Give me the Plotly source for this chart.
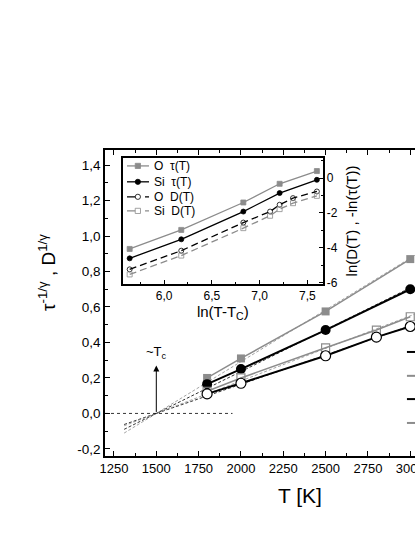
import numpy as np
import plotly.graph_objects as go

# main panel: T [K] and scaled relaxation time / diffusion data
T_tau = [1800, 2000, 2500, 3000]
T_D = [1800, 2000, 2500, 2800, 3000]
O_tau = [0.20, 0.31, 0.575, 0.87]
Si_tau = [0.165, 0.25, 0.47, 0.70]
O_D = [0.11, 0.17, 0.325, 0.43, 0.49]
Si_D = [0.125, 0.20, 0.37, 0.47, 0.545]

TC = 1500
fit_T = [1310, 3500]

# inset: ln(T-Tc) vs ln D, -ln tau
lnT_tau = [5.64, 6.18, 6.83, 7.21, 7.60]
lnT_D = [5.64, 6.18, 6.83, 7.11, 7.21, 7.35, 7.60]
in_O_tau = [-4.06, -2.97, -1.40, -0.33, 0.40]
in_Si_tau = [-4.60, -3.51, -1.92, -0.86, -0.10]
in_O_D = [-5.23, -4.16, -2.55, -1.92, -1.53, -1.15, -0.77]
in_Si_D = [-5.52, -4.44, -2.87, -2.16, -1.78, -1.44, -1.02]

y_ticks = [-0.2, 0.0, 0.2, 0.4, 0.6, 0.8, 1.0, 1.2, 1.4]
y_ticktext = ['-0,2', '0,0', '0,2', '0,4', '0,6', '0,8', '1,0', '1,2', '1,4']
inset_x_ticks = [6.0, 6.5, 7.0, 7.5]
inset_x_ticktext = ['6,0', '6,5', '7,0', '7,5']
inset_y_ticks = [-6, -4, -2, 0]
inset_y_ticktext = ['-6', '-4', '-2', '0']

GRAY = '#8c8c8c'
FONT = 'Arial, Liberation Sans, sans-serif'
NB = '\u00a0'

fig = go.Figure()


def fit_line(xs, ys):
    # least squares line forced through (TC, 0)
    dx = np.array(xs) - TC
    k = np.sum(dx * np.array(ys)) / np.sum(dx ** 2)
    return [k * (t - TC) for t in fit_T]


# extrapolated fits (thin dashed)
for xs, ys, c in [(T_tau, O_tau, GRAY), (T_tau, Si_tau, 'black'),
                  (T_D, O_D, 'black'), (T_D, Si_D, GRAY)]:
    fig.add_trace(go.Scatter(x=fit_T, y=fit_line(xs, ys), mode='lines',
                             line=dict(color=c, width=0.8, dash='3px,2px'),
                             showlegend=False, hoverinfo='skip'))

# main data
fig.add_trace(go.Scatter(x=T_tau, y=O_tau, mode='lines+markers', showlegend=False,
                         line=dict(color=GRAY, width=1.5),
                         marker=dict(symbol='square', size=8, color=GRAY)))
fig.add_trace(go.Scatter(x=T_tau, y=Si_tau, mode='lines+markers', showlegend=False,
                         line=dict(color='black', width=2),
                         marker=dict(symbol='circle', size=10, color='black')))
fig.add_trace(go.Scatter(x=T_D, y=Si_D, mode='lines+markers', showlegend=False,
                         line=dict(color=GRAY, width=1.5),
                         marker=dict(symbol='square-open', size=8, color=GRAY,
                                     line=dict(width=1.2))))
fig.add_trace(go.Scatter(x=T_D, y=O_D, mode='lines+markers', showlegend=False,
                         line=dict(color='black', width=2),
                         marker=dict(symbol='circle', size=10, color='white',
                                     line=dict(color='black', width=1.2))))

# inset series: (name, x, y, colour, dash, marker)
inset_series = [
    ('O' + NB * 2 + 'τ(T)', lnT_tau, in_O_tau, GRAY, 'solid', 'square'),
    ('Si' + NB * 2 + 'τ(T)', lnT_tau, in_Si_tau, 'black', 'solid', 'circle'),
    ('O' + NB * 2 + 'D(T)', lnT_D, in_O_D, 'black', '7px,4px', 'circle-open'),
    ('Si' + NB * 2 + 'D(T)', lnT_D, in_Si_D, GRAY, '7px,4px', 'square-open'),
]
for name, xs, ys, c, dash, sym in inset_series:
    fig.add_trace(go.Scatter(x=xs, y=ys, xaxis='x2', yaxis='y2', mode='lines+markers',
                             name=name, showlegend=False,
                             line=dict(color=c, width=1.3, dash=dash),
                             marker=dict(symbol=sym, size=5, color=c,
                                         line=dict(width=0.8, color=c))))

axis_common = dict(showline=True, linecolor='black', linewidth=1.5, ticks='inside',
                   tickcolor='black', showgrid=False, zeroline=False, automargin=False)

fig.update_layout(
    width=415, height=537,
    margin=dict(l=105, r=0, t=150, b=81),
    paper_bgcolor='white', plot_bgcolor='white',
    font=dict(family=FONT, color='black', size=13),
    showlegend=False,
    xaxis=dict(range=[1197, 3028], tick0=1250, dtick=250, ticklen=5,
               minor=dict(dtick=125, tick0=1250, ticklen=3, ticks='inside'),
               mirror='ticks', tickfont=dict(size=13), ticklabeloverflow='allow',
               **axis_common),
    yaxis=dict(range=[-0.24, 1.485], tickvals=y_ticks, ticktext=y_ticktext, ticklen=5,
               minor=dict(dtick=0.1, tick0=0, ticklen=3, ticks='inside'),
               tickfont=dict(size=13.5), **axis_common),
    xaxis2=dict(domain=[0.058, 0.702], anchor='y2', range=[5.57, 7.66],
                tickvals=inset_x_ticks, ticktext=inset_x_ticktext, ticklen=4,
                minor=dict(dtick=0.25, tick0=6.0, ticklen=2, ticks='inside'),
                mirror=True, tickfont=dict(size=12),
                title=dict(text='ln(T-T<sub>C</sub>)', font=dict(size=15), standoff=0),
                **axis_common),
    yaxis2=dict(domain=[0.562, 0.974], anchor='x2', side='right', range=[-6.07, 1.15],
                tickvals=inset_y_ticks, ticktext=inset_y_ticktext, ticklen=4,
                minor=dict(dtick=1, tick0=0, ticklen=2, ticks='inside'),
                mirror=True, tickfont=dict(size=12),
                title=dict(text='ln(D(T) , -ln(τ(T))', font=dict(size=15), standoff=10),
                **axis_common),
)

# compact legend inside the inset (plotly's own legend rows are too tall)
row_y = [0.948, 0.896, 0.847, 0.801]
mw, mh = 0.0085, 0.0085
for (name, xs, ys, c, dash, sym), yy in zip(inset_series, row_y):
    fig.add_shape(type='line', xref='paper', yref='paper', x0=0.071, x1=0.142,
                  y0=yy, y1=yy, line=dict(color=c, width=1.3,
                                          dash='solid' if dash == 'solid' else 'dash'))
    kind = 'rect' if sym.startswith('square') else 'circle'
    fill = 'white' if sym.endswith('open') else c
    fig.add_shape(type=kind, xref='paper', yref='paper', x0=0.106 - mw, x1=0.106 + mw,
                  y0=yy - mh, y1=yy + mh, fillcolor=fill, line=dict(color=c, width=0.8))
    fig.add_annotation(x=0.153, y=yy, xref='paper', yref='paper', text=name,
                       xanchor='left', yanchor='middle', showarrow=False,
                       font=dict(size=12))

# dotted zero line up to ~1950 K
fig.add_shape(type='line', xref='x', yref='y', x0=1197, x1=1950, y0=0, y1=0,
              line=dict(color='black', width=0.8, dash='dot'))

# Tc arrow and label
fig.add_annotation(x=TC, y=0.27, ax=TC, ay=0.0, axref='x', ayref='y', xref='x', yref='y',
                   text='', showarrow=True, arrowhead=2, arrowsize=1.2, arrowwidth=1,
                   arrowcolor='black')
fig.add_annotation(x=TC, y=0.345, xref='x', yref='y', text='~T<sub>c</sub>',
                   showarrow=False, font=dict(size=13))

# axis titles
fig.add_annotation(x=-0.185, y=0.60, xref='paper', yref='paper', textangle=-90,
                   xanchor='center', yanchor='middle',
                   text='τ<sup>-1/γ</sup> , D<sup>1/γ</sup>', showarrow=False,
                   font=dict(size=19, color='black'))
fig.add_annotation(x=0.63, y=-0.128, xref='paper', yref='paper', text='T [K]',
                   xanchor='center', yanchor='middle',
                   showarrow=False, font=dict(size=21))

# edge of a second legend, cut off at the right border
for yy, c in [(0.34, 'black'), (0.262, GRAY), (0.186, 'black'), (0.108, GRAY)]:
    fig.add_shape(type='line', xref='paper', yref='paper', x0=0.974, x1=1.0,
                  y0=yy, y1=yy, line=dict(color=c, width=2))

fig.write_html("out.html", config={'displayModeBar': False},
               post_script="document.body.style.margin='0';")
